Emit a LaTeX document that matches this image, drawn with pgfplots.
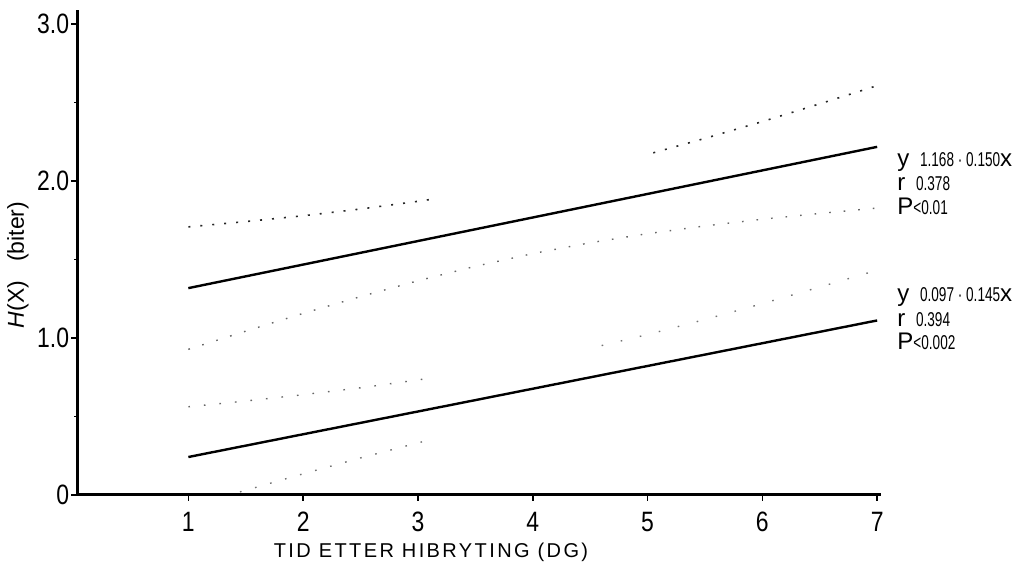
\documentclass[border=0pt]{standalone}
\usepackage{pgfplots}
\pgfplotsset{compat=1.18}
\usepackage{graphicx}
\usepackage{fontspec}
\setmainfont{Liberation Sans}
\newcommand{\cond}[1]{\scalebox{0.68}[1]{#1}}
\newcommand{\bigf}{\fontsize{12}{12}\selectfont}
\newcommand{\smlf}{\fontsize{10}{10}\selectfont}
\begin{document}
\begin{tikzpicture}
\useasboundingbox (0,0) rectangle (507pt,283.5pt);
\begin{axis}[
  at={(38.5pt,36pt)}, anchor=south west,
  scale only axis, width=401.8pt, height=242.5pt,
  xmin=0.03, xmax=7.03, ymin=0, ymax=3.09,
  axis lines=left, axis line style={line width=1.5pt,-},
  xtick={1,2,3,4,5,6,7}, xticklabels={1,2,3,4,5,6,7},
  ytick={0,1,2,3}, yticklabels={0,1.0,2.0,3.0},
  minor ytick={0.5,1.5,2.5},
  tick align=outside, major tick length=3pt, minor tick length=1.5pt,
  tick style={line width=0.8pt,black},
  tick label style={font=\fontsize{14}{16}\selectfont, xscale=0.82},
  yticklabel style={inner sep=1pt},
  xticklabel style={yshift=-2pt},
  clip=false,
]
% regression lines
\addplot[black, line width=1.2pt] coordinates {(1,1.318) (7,2.218)};
\addplot[black, line width=1.2pt] coordinates {(1,0.242) (7,1.112)};
% confidence bands, upper regression
\addplot[black!85, line width=0.8pt, dash pattern=on 1pt off 5pt] coordinates {
(1,1.708) (1.5,1.742) (2,1.779) (2.5,1.822) (3,1.871) (3.1,1.882)};
\addplot[black!85, line width=0.8pt, dash pattern=on 1pt off 5pt] coordinates {
(5.05,2.18) (5.5,2.272) (6,2.379) (6.5,2.492) (7,2.608)};
\addplot[black!60, line width=0.7pt, dash pattern=on 0.8pt off 6.5pt] coordinates {
(1,0.928) (1.5,1.044) (2,1.157) (2.5,1.264) (3,1.365) (3.5,1.457) (4,1.538) (4.5,1.607) (5,1.665) (5.5,1.714) (6,1.757) (6.5,1.794) (7,1.828)};
% confidence bands, lower regression
\addplot[black!60, line width=0.7pt, dash pattern=on 0.8pt off 7pt] coordinates {
(1,0.562) (1.5,0.599) (2,0.639) (2.5,0.683) (3,0.733) (3.1,0.744)};
\addplot[black!55, line width=0.7pt, dash pattern=on 0.8pt off 9pt] coordinates {
(4.6,0.952) (5,1.022) (5.5,1.118) (6,1.219) (6.5,1.325) (7,1.432)};
\addplot[black!55, line width=0.7pt, dash pattern=on 0.8pt off 7pt] coordinates {
(1.45,0.02) (1.5,0.030) (2,0.135) (2.5,0.236) (3,0.332) (3.1,0.35)};
\end{axis}
% axis titles
\node[font=\fontsize{10}{12}\selectfont\addfontfeature{LetterSpace=12}] at (215.5pt,7.5pt) {TID ETTER HIBRYTING (DG)};
\node[rotate=90, font=\fontsize{11.5}{13}\selectfont] at (9pt,151pt) {\textit{H}(X)\ \ \ (biter)};
% annotations
\node[anchor=base west, inner sep=0pt] at (448.5pt,200pt) {\bigf y\,\ \smlf\cond{1.168 · 0.150}\bigf x};
\node[anchor=base west, inner sep=0pt] at (448.5pt,188pt) {\bigf r\,\ \smlf\cond{0.378}};
\node[anchor=base west, inner sep=0pt] at (448.5pt,176pt) {\bigf P\smlf\cond{<0.01}};
\node[anchor=base west, inner sep=0pt] at (448.5pt,132.5pt) {\bigf y\,\ \smlf\cond{0.097 · 0.145}\bigf x};
\node[anchor=base west, inner sep=0pt] at (448.5pt,120pt) {\bigf r\,\ \smlf\cond{0.394}};
\node[anchor=base west, inner sep=0pt] at (448.5pt,108.5pt) {\bigf P\smlf\cond{<0.002}};
\end{tikzpicture}
\end{document}
